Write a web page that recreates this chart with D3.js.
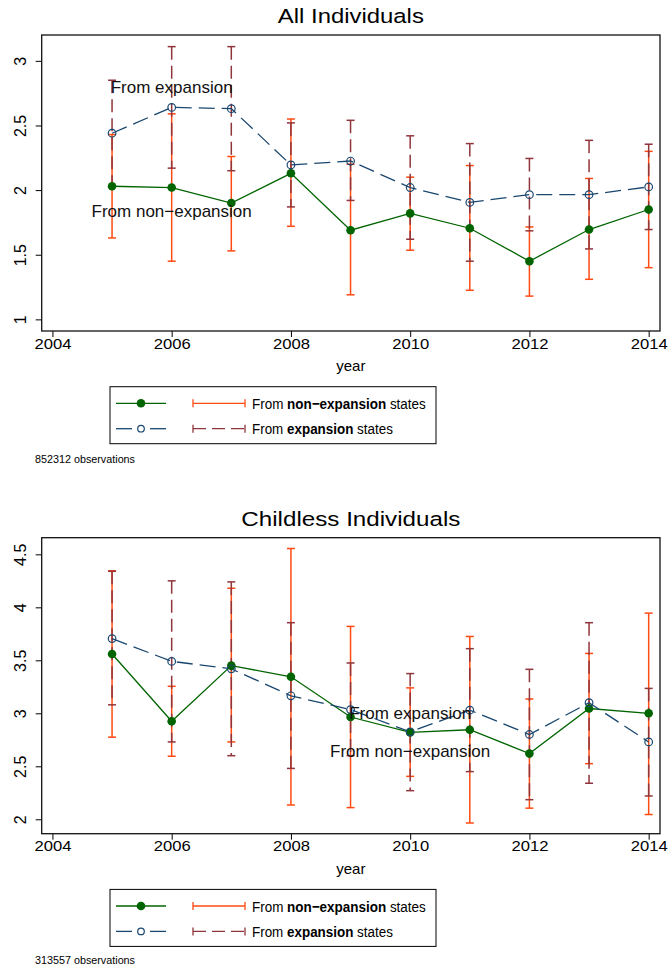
<!DOCTYPE html>
<html>
<head>
<meta charset="utf-8">
<script src="https://cdn.jsdelivr.net/npm/d3@7"></script>
<style>
  body { margin: 0; background: #fff; }
  svg { display: block; font-family: "Liberation Sans", Arial, Helvetica, sans-serif; }
</style>
</head>
<body>
<svg id="chart" width="671" height="969"></svg>
<script>
// Data
const years = [2005, 2006, 2007, 2008, 2009, 2010, 2011, 2012, 2013, 2014];
const xTicks = [2004, 2006, 2008, 2010, 2012, 2014];

// All individuals
const allNonExp   = [2.03, 2.02, 1.90, 2.13, 1.69, 1.82, 1.705, 1.45, 1.695, 1.85];
const allNonExpLo = [1.63, 1.45, 1.53, 1.72, 1.19, 1.535, 1.225, 1.18, 1.31, 1.40];
const allNonExpHi = [2.43, 2.59, 2.26, 2.55, 2.20, 2.10, 2.19, 1.715, 2.09, 2.30];
const allExp      = [2.44, 2.64, 2.63, 2.195, 2.225, 2.02, 1.905, 1.965, 1.965, 2.025];
const allExpLo    = [2.03, 2.17, 2.15, 1.87, 1.92, 1.62, 1.45, 1.685, 1.545, 1.695];
const allExpHi    = [2.85, 3.11, 3.11, 2.52, 2.54, 2.42, 2.36, 2.245, 2.385, 2.355];
const allYTicks   = [1, 1.5, 2, 2.5, 3];

// Childless individuals
const childNonExp   = [3.56, 2.925, 3.45, 3.345, 2.965, 2.82, 2.845, 2.62, 3.045, 3.0];
const childNonExpLo = [2.775, 2.595, 2.73, 2.135, 2.11, 2.405, 1.965, 2.105, 2.525, 2.045];
const childNonExpHi = [4.345, 3.255, 4.18, 4.555, 3.82, 3.24, 3.725, 3.135, 3.565, 3.945];
const childExp      = [3.705, 3.49, 3.42, 3.165, 3.035, 2.825, 3.03, 2.80, 3.10, 2.73];
const childExpLo    = [3.08, 2.73, 2.60, 2.48, 2.60, 2.27, 2.45, 2.185, 2.34, 2.22];
const childExpHi    = [4.34, 4.25, 4.24, 3.855, 3.475, 3.375, 3.61, 3.415, 3.855, 3.235];
const childYTicks   = [2, 2.5, 3, 3.5, 4, 4.5];

const COL = {
  green: '#006400', blue: '#1a476f', orange: '#ff4a12', maroon: '#90353b'
};

const svg = d3.select('#chart');
svg.append('rect').attr('width', 671).attr('height', 969).attr('fill', '#fff');

// stretch a single text to a measured width (reference font runs wider than Arial)
const fit = (sel, w) => sel.attr('textLength', w).attr('lengthAdjust', 'spacingAndGlyphs');

// squeeze a multi-span text horizontally with a transform instead
function squeeze(sel, x0, y0, w) {
  const sx = w / sel.node().getComputedTextLength();
  sel.attr('x', 0).attr('y', 0).attr('transform', `translate(${x0},${y0}) scale(${sx},1)`);
}

function drawPanel(p) {
  const g = svg.append('g').attr('transform', `translate(0,${p.top})`);
  const L = 41.7, R = 660, T = 35, B = 331;

  const x = d3.scaleLinear().domain([2003.82, 2014.19]).range([L, R]);
  const y = d3.scaleLinear().domain(p.yDomain).range([B, T]);

  // title
  g.append('text').attr('x', (L + R) / 2).attr('y', p.titleY)
    .attr('text-anchor', 'middle').attr('font-size', 20.5).attr('fill', '#000')
    .text(p.title).call(fit, p.titleW);

  // y axis: rotated labels
  const yAxis = g.append('g').attr('transform', `translate(${L},0)`)
    .call(d3.axisLeft(y).tickValues(p.yTicks).tickSize(6).tickFormat(d3.format('')));
  yAxis.select('.domain').remove();
  yAxis.selectAll('.tick text').attr('font-size', 16).attr('fill', '#000')
    .attr('text-anchor', 'middle').attr('x', 0).attr('y', 0).attr('dy', '0.36em')
    .attr('transform', 'translate(-21,0) rotate(-90)');

  const xAxis = g.append('g').attr('transform', `translate(0,${B})`)
    .call(d3.axisBottom(x).tickValues(xTicks).tickSize(6).tickPadding(1).tickFormat(d3.format('d')));
  xAxis.select('.domain').remove();
  xAxis.selectAll('.tick text').attr('font-size', 15).attr('fill', '#000').call(fit, 37);
  g.selectAll('.tick line').attr('stroke', '#000').attr('stroke-width', 1);

  g.append('text').attr('x', (L + R) / 2).attr('y', 371)
    .attr('text-anchor', 'middle').attr('font-size', 15).text('year');

  // plot region frame
  g.append('rect').attr('x', L).attr('y', T).attr('width', R - L).attr('height', B - T)
    .attr('fill', 'none').attr('stroke', '#111').attr('stroke-width', 1.3);

  const rows = years.map((yr, i) => ({
    yr, ne: p.ne[i], neLo: p.neLo[i], neHi: p.neHi[i],
    ex: p.ex[i], exLo: p.exLo[i], exHi: p.exHi[i]
  }));

  const cap = 4;
  function rcap(lo, hi, color, dash) {
    const grp = g.append('g').attr('stroke', color).attr('stroke-width', 1.5).attr('fill', 'none');
    grp.selectAll('line.v').data(rows).join('line').attr('class', 'v')
      .attr('x1', d => x(d.yr)).attr('x2', d => x(d.yr))
      .attr('y1', d => y(d[hi])).attr('y2', d => y(d[lo]))
      .attr('stroke-dasharray', dash);
    [lo, hi].forEach(k => {
      grp.selectAll('line.c' + k).data(rows).join('line').attr('class', 'c' + k)
        .attr('x1', d => x(d.yr) - cap).attr('x2', d => x(d.yr) + cap)
        .attr('y1', d => y(d[k])).attr('y2', d => y(d[k]));
    });
  }
  rcap('neLo', 'neHi', COL.orange, null);
  rcap('exLo', 'exHi', COL.maroon, '13,6');

  const line = k => d3.line().x(d => x(d.yr)).y(d => y(d[k]));
  g.append('path').datum(rows).attr('d', line('ne'))
    .attr('fill', 'none').attr('stroke', COL.green).attr('stroke-width', 1.3);
  g.append('path').datum(rows).attr('d', line('ex'))
    .attr('fill', 'none').attr('stroke', COL.blue).attr('stroke-width', 1.3)
    .attr('stroke-dasharray', '16,7');

  g.selectAll('circle.ne').data(rows).join('circle').attr('class', 'ne')
    .attr('cx', d => x(d.yr)).attr('cy', d => y(d.ne)).attr('r', 4.3)
    .attr('fill', COL.green);
  g.selectAll('circle.ex').data(rows).join('circle').attr('class', 'ex')
    .attr('cx', d => x(d.yr)).attr('cy', d => y(d.ex)).attr('r', 3.8)
    .attr('fill', 'none').attr('stroke', COL.blue).attr('stroke-width', 1.2);

  // in-plot labels
  p.labels.forEach(l => {
    g.append('text').attr('x', x(l.yr)).attr('y', y(l.v)).attr('dy', '0.35em')
      .attr('text-anchor', 'middle').attr('font-size', 17).attr('fill', '#111').text(l.text);
  });

  // legend
  const lg = g.append('g').attr('transform', 'translate(110,386.7)');
  lg.append('rect').attr('width', 326).attr('height', 57)
    .attr('fill', '#fff').attr('stroke', '#000').attr('stroke-width', 1);
  const r1 = 16.6, r2 = 42;
  lg.append('line').attr('x1', 6).attr('x2', 56).attr('y1', r1).attr('y2', r1)
    .attr('stroke', COL.green).attr('stroke-width', 1.3);
  lg.append('circle').attr('cx', 31).attr('cy', r1).attr('r', 4.3).attr('fill', COL.green);
  [[6, 22], [40, 56]].forEach(s => lg.append('line').attr('x1', s[0]).attr('x2', s[1])
    .attr('y1', r2).attr('y2', r2).attr('stroke', COL.blue).attr('stroke-width', 1.3));
  lg.append('circle').attr('cx', 31).attr('cy', r2).attr('r', 3.3)
    .attr('fill', 'none').attr('stroke', COL.blue).attr('stroke-width', 1.2);
  lg.append('line').attr('x1', 83).attr('x2', 135).attr('y1', r1).attr('y2', r1)
    .attr('stroke', COL.orange).attr('stroke-width', 1.3);
  lg.append('line').attr('x1', 83).attr('x2', 135).attr('y1', r2).attr('y2', r2)
    .attr('stroke', COL.maroon).attr('stroke-width', 1.3).attr('stroke-dasharray', '13,6');
  [[r1, COL.orange], [r2, COL.maroon]].forEach(([ry, c]) => {
    [83, 135].forEach(cx => lg.append('line').attr('x1', cx).attr('x2', cx)
      .attr('y1', ry - 4).attr('y2', ry + 4).attr('stroke', c).attr('stroke-width', 1.3));
  });
  const t1 = lg.append('text').attr('dy', '0.36em').attr('font-size', 15.5);
  t1.append('tspan').text('From ');
  t1.append('tspan').attr('font-weight', 'bold').text('non\u2212expansion');
  t1.append('tspan').text(' states');
  squeeze(t1, 142, r1, 174);
  const t2 = lg.append('text').attr('dy', '0.36em').attr('font-size', 15.5);
  t2.append('tspan').text('From ');
  t2.append('tspan').attr('font-weight', 'bold').text('expansion');
  t2.append('tspan').text(' states');
  squeeze(t2, 142, r2, 141);

  g.append('text').attr('x', 35).attr('y', p.obsY).attr('dy', '0.35em')
    .attr('font-size', 11).text(p.obs).call(fit, 100);
}

drawPanel({
  top: 0, title: 'All Individuals', titleY: 22.5, titleW: 146, yDomain: [0.91, 3.2], yTicks: allYTicks,
  ne: allNonExp, neLo: allNonExpLo, neHi: allNonExpHi,
  ex: allExp, exLo: allExpLo, exHi: allExpHi,
  labels: [{ yr: 2006, v: 2.8, text: 'From expansion' }, { yr: 2006, v: 1.84, text: 'From non\u2212expansion' }],
  obs: '852312 observations', obsY: 459
});

drawPanel({
  top: 502.7, title: 'Childless Individuals', titleY: 23.5, titleW: 219, yDomain: [1.864, 4.657], yTicks: childYTicks,
  ne: childNonExp, neLo: childNonExpLo, neHi: childNonExpHi,
  ex: childExp, exLo: childExpLo, exHi: childExpHi,
  labels: [{ yr: 2010, v: 3.0, text: 'From expansion' }, { yr: 2010, v: 2.64, text: 'From non\u2212expansion' }],
  obs: '313557 observations', obsY: 457.3
});
</script>
</body>
</html>
